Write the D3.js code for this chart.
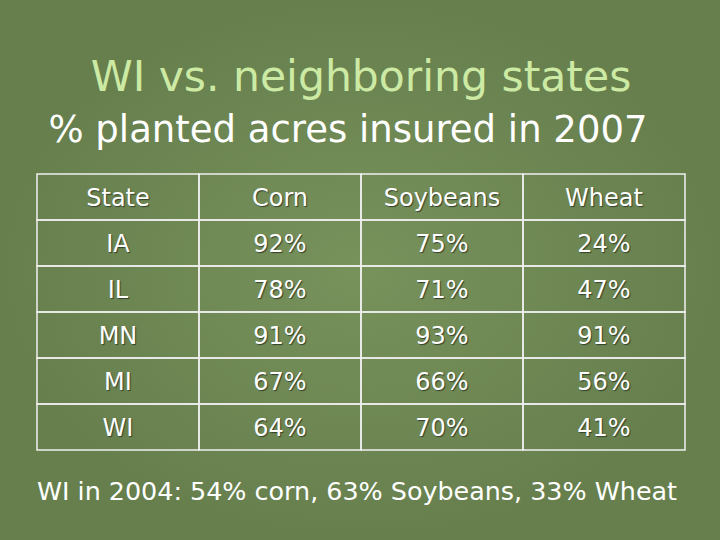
<!DOCTYPE html><html><head><meta charset="utf-8"><script src="https://d3js.org/d3.v7.min.js"></script>
<style>body{margin:0;background:#6d8853}</style></head><body><script>
const columns=["State","Corn","Soybeans","Wheat"];
const states=["IA","IL","MN","MI","WI"];
const corn=["92%","78%","91%","67%","64%"];
const soybeans=["75%","71%","93%","66%","70%"];
const wheat=["24%","47%","91%","56%","41%"];
const title1="WI vs. neighboring states", title2="% planted acres insured in 2007";
const footnote="WI in 2004: 54% corn, 63% Soybeans, 33% Wheat";
const rows=states.map((s,i)=>[s,corn[i],soybeans[i],wheat[i]]);
const svg=d3.select("body").append("svg").attr("width",720).attr("height",540);
const g=svg.append("defs").append("radialGradient").attr("id","bg");
g.append("stop").attr("offset","0%").attr("stop-color","#78925c");
g.append("stop").attr("offset","100%").attr("stop-color","#667f4d");
svg.append("rect").attr("width",720).attr("height",540).attr("fill","url(#bg)");
const f="DejaVu Sans, Verdana, sans-serif";
svg.append("text").attr("x",361).attr("y",91).attr("text-anchor","middle").attr("font-family",f).attr("font-size",42.5).attr("fill","#cdeaa4").text(title1);
svg.append("text").attr("x",348).attr("y",142).attr("text-anchor","middle").attr("font-family",f).attr("font-size",37).attr("fill","#ffffff").text(title2);
const x=d3.scaleBand().domain(d3.range(4)).range([37,685]);
const y=d3.scaleBand().domain(d3.range(6)).range([174,450]);
const all=[columns,...rows];
const t=svg.append("g");
all.forEach((r,i)=>r.forEach((c,j)=>{
 t.append("rect").attr("x",x(j)).attr("y",y(i)).attr("width",x.bandwidth()).attr("height",y.bandwidth()).attr("fill","none").attr("stroke","#f0f0f0").attr("stroke-width",1.5);
 t.append("text").attr("x",x(j)+x.bandwidth()/2).attr("y",y(i)+y.bandwidth()/2+9).attr("text-anchor","middle").attr("font-family",f).attr("font-size",24).attr("fill","#fff").style("text-shadow","1px 1px 1px #33402a").text(c);
}));
svg.append("text").attr("x",357).attr("y",500).attr("text-anchor","middle").attr("font-family",f).attr("font-size",25.4).attr("fill","#fff").text(footnote);
</script></body></html>
